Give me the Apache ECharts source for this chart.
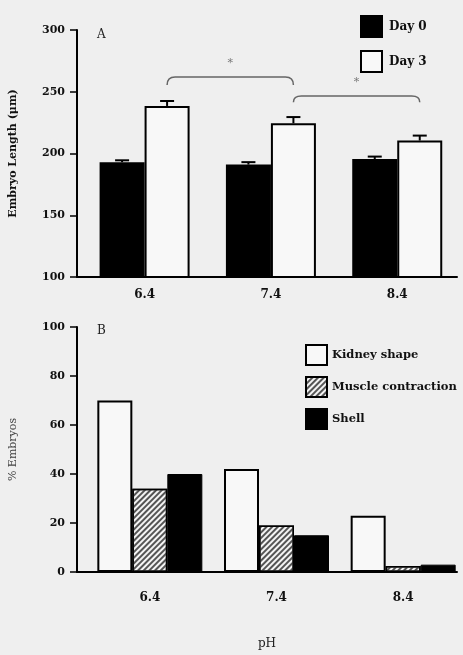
<!DOCTYPE html>
<html><head><meta charset="utf-8">
<script src="https://cdn.jsdelivr.net/npm/echarts@6/dist/echarts.min.js"></script>
<style>html,body{margin:0;padding:0;background:#efefef}#c{width:463px;height:655px}</style>
</head><body><div id="c"></div>
<script>
const categories = ['6.4', '7.4', '8.4'];
// Panel A
const day0 = [193, 191, 195.5];
const day0Err = [1.5, 2, 2];
const day3 = [238.5, 224.5, 210.5];
const day3Err = [4, 5, 4];
const topTicks = [100, 150, 200, 250, 300];
// significance brackets: [from category, to category, top value, end value]
const brackets = [[0, 1, 262, 255.5], [1, 2, 246.5, 241.5]];
const bracketLabels = ['*', '*'];
// Panel B
const kidney = [70, 42, 23];
const muscle = [34, 19, 2.5];
const shell = [40, 15, 3];
const bottomTicks = [0, 20, 40, 60, 80, 100];

const FONT = 'DejaVu Serif';
const idx = categories.map((c, i) => i);
const chart = echarts.init(document.getElementById('c'));

function errItem(offset) {
  return function (params, api) {
    const i = api.value(0), v = api.value(1), e = api.value(2);
    const p = api.coord([i, v]);
    const t = api.coord([i, v + e]);
    const x = p[0] + offset;
    const st = { stroke: '#000', lineWidth: 2 };
    return { type: 'group', children: [
      { type: 'line', shape: { x1: x, y1: p[1], x2: x, y2: t[1] }, style: st },
      { type: 'line', shape: { x1: x - 7, y1: t[1], x2: x + 7, y2: t[1] }, style: st }
    ] };
  };
}

const axisLabelStyle = { fontFamily: FONT, fontWeight: 'bold', color: '#111', fontSize: 11 };

chart.setOption({
  backgroundColor: '#efefef',
  animation: false,
  title: [
    { text: 'A', left: 92, top: 24, textStyle: { fontFamily: FONT, fontSize: 12, fontWeight: 'normal', color: '#222' } },
    { text: 'B', left: 92, top: 320, textStyle: { fontFamily: FONT, fontSize: 12, fontWeight: 'normal', color: '#222' } }
  ],
  legend: [
    { data: ['Day 0', 'Day 3'], orient: 'vertical', left: 355, top: 10, itemWidth: 21, itemHeight: 21, itemGap: 12,
      icon: 'rect', textStyle: { fontFamily: FONT, fontWeight: 'bold', fontSize: 12, color: '#111', padding: [0, 0, 0, 2] } },
    { data: ['Kidney shape', 'Muscle contraction', 'Shell'], orient: 'vertical', left: 300, top: 339, itemWidth: 21, itemHeight: 20, itemGap: 10,
      icon: 'rect', textStyle: { fontFamily: FONT, fontWeight: 'bold', fontSize: 11.5, color: '#111', padding: [0, 0, 0, 0] } }
  ],
  grid: [
    { left: 75, top: 30, width: 382, height: 247 },
    { left: 76, top: 327, width: 381, height: 245 }
  ],
  xAxis: [
    { type: 'value', gridIndex: 0, min: -0.535, max: 2.473,
      axisLine: { show: true, onZero: false, lineStyle: { color: '#000', width: 2 } },
      axisTick: { show: false }, splitLine: { show: false },
      axisLabel: { customValues: idx, formatter: v => categories[Math.round(v)], margin: 12, fontSize: 12, fontFamily: FONT, fontWeight: 'bold', color: '#111' } },
    { type: 'value', gridIndex: 1, min: -0.575, max: 2.425,
      axisLine: { show: true, onZero: false, lineStyle: { color: '#000', width: 2 } },
      axisTick: { show: false }, splitLine: { show: false },
      name: 'pH', nameLocation: 'middle', nameGap: 66,
      nameTextStyle: { fontFamily: FONT, fontSize: 12, color: '#222' },
      axisLabel: { customValues: idx, formatter: v => categories[Math.round(v)], margin: 20, fontSize: 12, fontFamily: FONT, fontWeight: 'bold', color: '#111' } }
  ],
  yAxis: [
    { type: 'value', gridIndex: 0, min: topTicks[0], max: topTicks[topTicks.length - 1], interval: 50,
      name: 'Embryo Length (μm)', nameLocation: 'middle', nameGap: 58,
      nameTextStyle: { fontFamily: FONT, fontWeight: 'bold', fontSize: 11, color: '#111' },
      axisLine: { show: true, onZero: false, lineStyle: { color: '#000', width: 2 } },
      axisTick: { show: true, length: 7, lineStyle: { color: '#000', width: 1.5 } },
      splitLine: { show: false }, axisLabel: Object.assign({ margin: 12 }, axisLabelStyle) },
    { type: 'value', gridIndex: 1, min: bottomTicks[0], max: bottomTicks[bottomTicks.length - 1], interval: 20,
      name: '% Embryos', nameLocation: 'middle', nameGap: 58,
      nameTextStyle: { fontFamily: FONT, fontSize: 11, color: '#444' },
      axisLine: { show: true, onZero: false, lineStyle: { color: '#000', width: 2 } },
      axisTick: { show: true, length: 7, lineStyle: { color: '#000', width: 1.5 } },
      splitLine: { show: false }, axisLabel: Object.assign({ margin: 12 }, axisLabelStyle) }
  ],
  series: [
    { name: 'Day 0', type: 'bar', xAxisIndex: 0, yAxisIndex: 0, barWidth: 45, barGap: '0%',
      data: idx.map(i => [i, day0[i]]),
      itemStyle: { color: '#000', borderColor: '#000', borderWidth: 1.5 } },
    { name: 'Day 3', type: 'bar', xAxisIndex: 0, yAxisIndex: 0, barWidth: 45, barGap: '0%',
      data: idx.map(i => [i, day3[i]]),
      itemStyle: { color: '#f8f8f8', borderColor: '#000', borderWidth: 2 } },
    { type: 'custom', xAxisIndex: 0, yAxisIndex: 0, z: 5, renderItem: errItem(-22.5),
      data: idx.map(i => [i, day0[i], day0Err[i]]) },
    { type: 'custom', xAxisIndex: 0, yAxisIndex: 0, z: 5, renderItem: errItem(22.5),
      data: idx.map(i => [i, day3[i], day3Err[i]]) },
    { type: 'custom', xAxisIndex: 0, yAxisIndex: 0, z: 5,
      data: brackets.map((b, k) => [b[0], b[1], b[2], b[3], k]),
      renderItem: function (params, api) {
        const a = api.coord([api.value(0), api.value(2)]);
        const b = api.coord([api.value(1), api.value(2)]);
        const e = api.coord([api.value(0), api.value(3)]);
        const x1 = a[0] + 22.5, x2 = b[0] + 22.5, yt = a[1], ye = e[1], r = 8;
        const path = 'M' + x1 + ' ' + ye + ' Q' + x1 + ' ' + yt + ' ' + (x1 + r) + ' ' + yt +
          ' L' + (x2 - r) + ' ' + yt + ' Q' + x2 + ' ' + yt + ' ' + x2 + ' ' + ye;
        return { type: 'group', children: [
          { type: 'path', shape: { pathData: path }, style: { fill: null, stroke: '#666', lineWidth: 1.5 } },
          { type: 'text', x: (x1 + x2) / 2, y: yt - 14,
            style: { text: bracketLabels[api.value(4)], fill: '#777', fontSize: 11, fontFamily: FONT, align: 'center', verticalAlign: 'middle' } }
        ] };
      } },
    { name: 'Kidney shape', type: 'bar', xAxisIndex: 1, yAxisIndex: 1, barWidth: 35, barGap: '0%',
      data: idx.map(i => [i, kidney[i]]),
      itemStyle: { color: '#f8f8f8', borderColor: '#000', borderWidth: 2 } },
    { name: 'Muscle contraction', type: 'bar', xAxisIndex: 1, yAxisIndex: 1, barWidth: 35, barGap: '0%',
      data: idx.map(i => [i, muscle[i]]),
      itemStyle: { color: '#f4f4f4', borderColor: '#000', borderWidth: 1.5,
        decal: { symbol: 'rect', symbolSize: 1, color: '#555', dashArrayX: [1, 0], dashArrayY: [2, 2], rotation: -Math.PI / 4 } } },
    { name: 'Shell', type: 'bar', xAxisIndex: 1, yAxisIndex: 1, barWidth: 35, barGap: '0%',
      data: idx.map(i => [i, shell[i]]),
      itemStyle: { color: '#000', borderColor: '#000', borderWidth: 1 } }
  ]
});
</script></body></html>
